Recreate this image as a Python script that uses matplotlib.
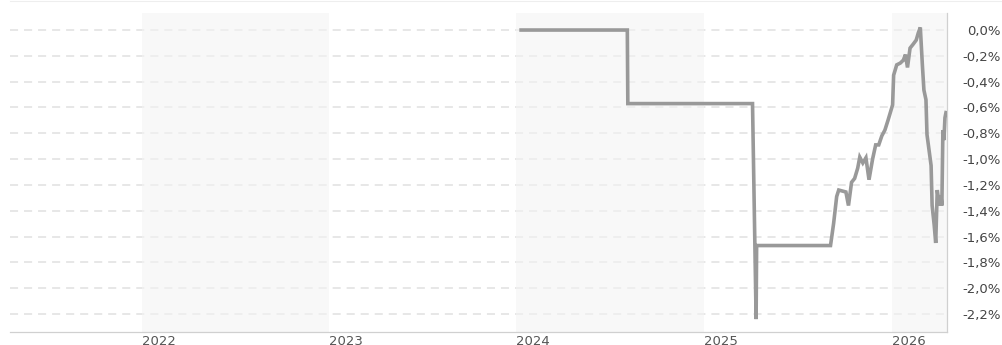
import matplotlib
matplotlib.use("Agg")
import matplotlib.pyplot as plt
import pandas as pd
from matplotlib.lines import Line2D

# ---- data ----
dates = [
    "2024-01-10", "2024-08-04", "2024-08-05", "2025-04-05", "2025-04-12", "2025-04-13",
    "2025-09-04", "2025-09-10", "2025-09-16", "2025-09-20", "2025-10-04", "2025-10-09",
    "2025-10-15", "2025-10-21", "2025-10-27", "2025-10-31", "2025-11-06", "2025-11-12",
    "2025-11-18", "2025-11-25", "2025-12-01", "2025-12-07", "2025-12-13", "2025-12-19",
    "2025-12-25", "2025-12-31", "2026-01-03", "2026-01-05", "2026-01-11", "2026-01-18",
    "2026-01-24", "2026-01-28", "2026-02-01", "2026-02-06", "2026-02-12", "2026-02-18",
    "2026-02-22", "2026-02-26", "2026-03-02", "2026-03-05", "2026-03-09", "2026-03-11",
    "2026-03-15", "2026-03-19", "2026-03-21", "2026-03-25", "2026-03-28", "2026-03-31",
    "2026-04-04", "2026-04-07", "2026-04-09", "2026-04-11", "2026-04-13", "2026-04-15",
    "2026-04-17",
]
values = [
    0.00, 0.00, -0.57, -0.57, -2.24, -1.67,
    -1.67, -1.50, -1.29, -1.24, -1.255, -1.36,
    -1.18, -1.15, -1.07, -0.985, -1.03, -0.99,
    -1.16, -1.00, -0.89, -0.89, -0.82, -0.775,
    -0.70, -0.62, -0.58, -0.35, -0.27, -0.256,
    -0.233, -0.19, -0.29, -0.14, -0.11, -0.078,
    -0.023, 0.02, -0.27, -0.465, -0.54, -0.81,
    -0.93, -1.05, -1.36, -1.51, -1.65, -1.24,
    -1.36, -1.28, -1.36, -0.775, -0.853, -0.68,
    -0.64,
]
year_ticks = ["2022-01-01", "2023-01-01", "2024-01-01", "2025-01-01", "2026-01-01"]
year_labels = ["2022", "2023", "2024", "2025", "2026"]
y_ticks = [0.0, -0.2, -0.4, -0.6, -0.8, -1.0, -1.2, -1.4, -1.6, -1.8, -2.0, -2.2]
shaded_spans = [("2022-01-01", "2023-01-01"), ("2024-01-01", "2025-01-01"),
                ("2026-01-01", "2026-12-31")]
x_range = ("2021-04-19", "2026-04-19")
y_range = (-2.34, 0.132)

plt.rcParams["font.family"] = ["DejaVu Sans"]
plt.rcParams["lines.scale_dashes"] = False

W, H = 1002, 345
fig = plt.figure(figsize=(W / 100, H / 100), dpi=100)
ax = fig.add_axes([10 / W, 13 / H, (947 - 10) / W, (332 - 13) / H])

x = pd.to_datetime(dates)

# grid
ax.set_yticks(y_ticks)
ax.yaxis.grid(True, color="#e0e0e0", linewidth=1.1, linestyle=(0, (5.8, 4.3)), zorder=1)
ax.xaxis.grid(False)
ax.set_axisbelow(True)

# shaded year bands
for a, b in shaded_spans:
    ax.axvspan(pd.Timestamp(a), pd.Timestamp(b), color="#f4f4f4", alpha=0.6,
               linewidth=0, zorder=1.5)

ax.plot(x, values, color="#999999", linewidth=2.6, solid_joinstyle="miter",
        zorder=3)

ax.set_xlim(pd.Timestamp(x_range[0]), pd.Timestamp(x_range[1]))
ax.set_ylim(*y_range)

ax.set_xticks(pd.to_datetime(year_ticks))
ax.set_xticklabels(year_labels)
for lbl in ax.get_xticklabels():
    lbl.set_horizontalalignment("left")
ax.tick_params(axis="x", length=0, pad=2, labelsize=9.5, labelcolor="#555555")


def fmt(v):
    s = f"{abs(v):.1f}".replace(".", ",") + "%"
    return ("-" + s) if v < -1e-9 else s


ax.yaxis.tick_right()
ax.set_yticklabels([fmt(v) for v in y_ticks])
ax.tick_params(axis="y", length=0, pad=(1001 - 947) * 0.72, labelsize=9.5,
               labelcolor="#444444")
for lbl in ax.get_yticklabels():
    lbl.set_horizontalalignment("right")

for s in ["left", "top"]:
    ax.spines[s].set_visible(False)
for s in ["right", "bottom"]:
    ax.spines[s].set_color("#d0d0d0")
    ax.spines[s].set_linewidth(0.9)

# faint top border line
fig.add_artist(Line2D([10 / W, 1.0], [1 - 0.6 / H, 1 - 0.6 / H], color="#eeeeee",
                      linewidth=0.8, transform=fig.transFigure))

fig.savefig("out.png", dpi=100, facecolor="white")
